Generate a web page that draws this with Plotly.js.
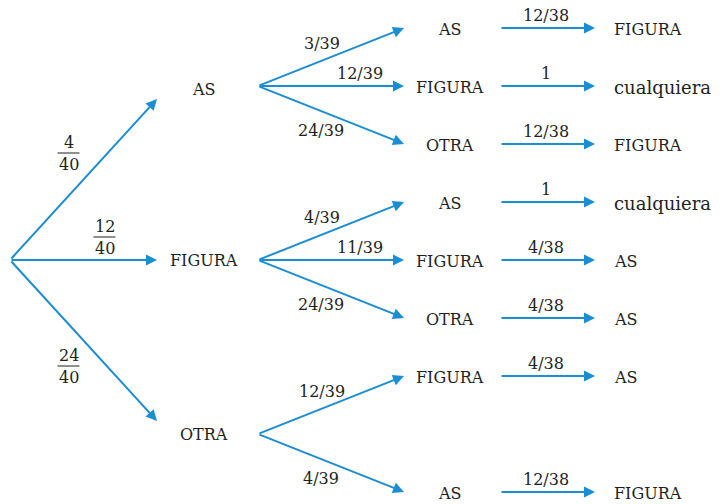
<!DOCTYPE html>
<html><head><meta charset="utf-8">
<script src="https://cdn.plot.ly/plotly-3.0.1.min.js"></script>
<style>html,body{margin:0;padding:0;background:#fff}#chart{width:720px;height:504px}</style>
</head><body><div id="chart"></div>
<script>
// ---- Data ----
const level1Labels = ["AS", "FIGURA", "OTRA"];
const level1Num = ["4", "12", "24"];
const level1Den = ["40", "40", "40"];
const level2Labels = [["AS", "FIGURA", "OTRA"], ["AS", "FIGURA", "OTRA"], ["FIGURA", "AS"]];
const level2Probs = [["3/39", "12/39", "24/39"], ["4/39", "11/39", "24/39"], ["12/39", "4/39"]];
const level3Labels = [["FIGURA", "cualquiera", "FIGURA"], ["cualquiera", "AS", "AS"], ["AS", "FIGURA"]];
const level3Probs = [["12/38", "1", "12/38"], ["1", "4/38", "4/38"], ["4/38", "12/38"]];

// ---- Layout geometry ----
const rowTop = 28, rowStep = 58;
const rowIndex = [[0, 1, 2], [3, 4, 5], [6, 8]];
const X = {root: 10, l1tip: 157, l1lab: 204, l2tail: 258, l2tip: 404, l2lab: 450, l3tail: 500, l3tip: 595, leaf: 612};
const BLUE = "#1b8dd3", INK = "#231f20", FONT = "DejaVu Serif";
const rowY = i => rowTop + rowStep * i;

const ann = [], shapes = [];
function arrow(x0, y0, x1, y1) {
  ann.push({x: x1, y: y1, ax: x0, ay: y0, xref: "x", yref: "y", axref: "x", ayref: "y",
    text: "", showarrow: true, arrowhead: 2, arrowsize: 1.1, arrowwidth: 2, arrowcolor: BLUE, standoff: 0});
}
function label(x, y, t, size, anchor) {
  ann.push({x: x, y: y, xref: "x", yref: "y", text: t, showarrow: false,
    xanchor: anchor || "center", yanchor: "middle", font: {family: FONT, size: size || 16, color: INK}});
}

const rootY = rowY(4);
level1Labels.forEach((lab, i) => {
  const ys = rowIndex[i].map(rowY);
  const y1 = ys.reduce((a, b) => a + b, 0) / ys.length;
  const dir = Math.sign(y1 - rootY);
  arrow(X.root, rootY, X.l1tip, y1 - dir * 13);
  label(X.l1lab, y1 + (dir < 0 ? 3 : 0), lab);
  const mx = (X.root + X.l1tip) / 2, my = (rootY + y1) / 2;
  const fx = dir === 0 ? mx + 21 : mx - 15;
  const fy = dir === 0 ? my - 23 : (dir < 0 ? my - 20 : my + 19);
  label(fx, fy - 11, level1Num[i]);
  label(fx, fy + 11, level1Den[i]);
  shapes.push({type: "line", xref: "x", yref: "y", x0: fx - 11, x1: fx + 11, y0: fy, y1: fy,
    line: {color: INK, width: 1}});

  level2Labels[i].forEach((lab2, j) => {
    const y2 = rowY(rowIndex[i][j]);
    const d2 = Math.sign(y2 - y1);
    arrow(X.l2tail, y1, X.l2tip, y2);
    label(X.l2lab, y2 + 1, lab2);
    const mx2 = (X.l2tail + X.l2tip) / 2, my2 = (y1 + y2) / 2;
    if (d2 < 0) label(mx2 - 9, my2 - 14, level2Probs[i][j]);
    else if (d2 > 0) label(mx2 - 10, my2 + 15, level2Probs[i][j]);
    else label(mx2 + 29, my2 - 13, level2Probs[i][j]);

    arrow(X.l3tail, y2, X.l3tip, y2);
    label((X.l3tail + X.l3tip) / 2 - 2, y2 - 13, level3Probs[i][j]);
    const leaf = level3Labels[i][j];
    label(X.leaf, y2 + 1, leaf, leaf === "cualquiera" ? 18 : 16, "left");
  });
});

const layout = {
  width: 720, height: 504, margin: {l: 0, r: 0, t: 0, b: 0},
  paper_bgcolor: "#fff", plot_bgcolor: "#fff", showlegend: false,
  font: {family: FONT},
  xaxis: {range: [0, 720], visible: false, fixedrange: true},
  yaxis: {range: [504, 0], visible: false, fixedrange: true},
  annotations: ann, shapes: shapes
};
Plotly.newPlot("chart", [], layout, {displayModeBar: false, staticPlot: true});
</script>
</body></html>
